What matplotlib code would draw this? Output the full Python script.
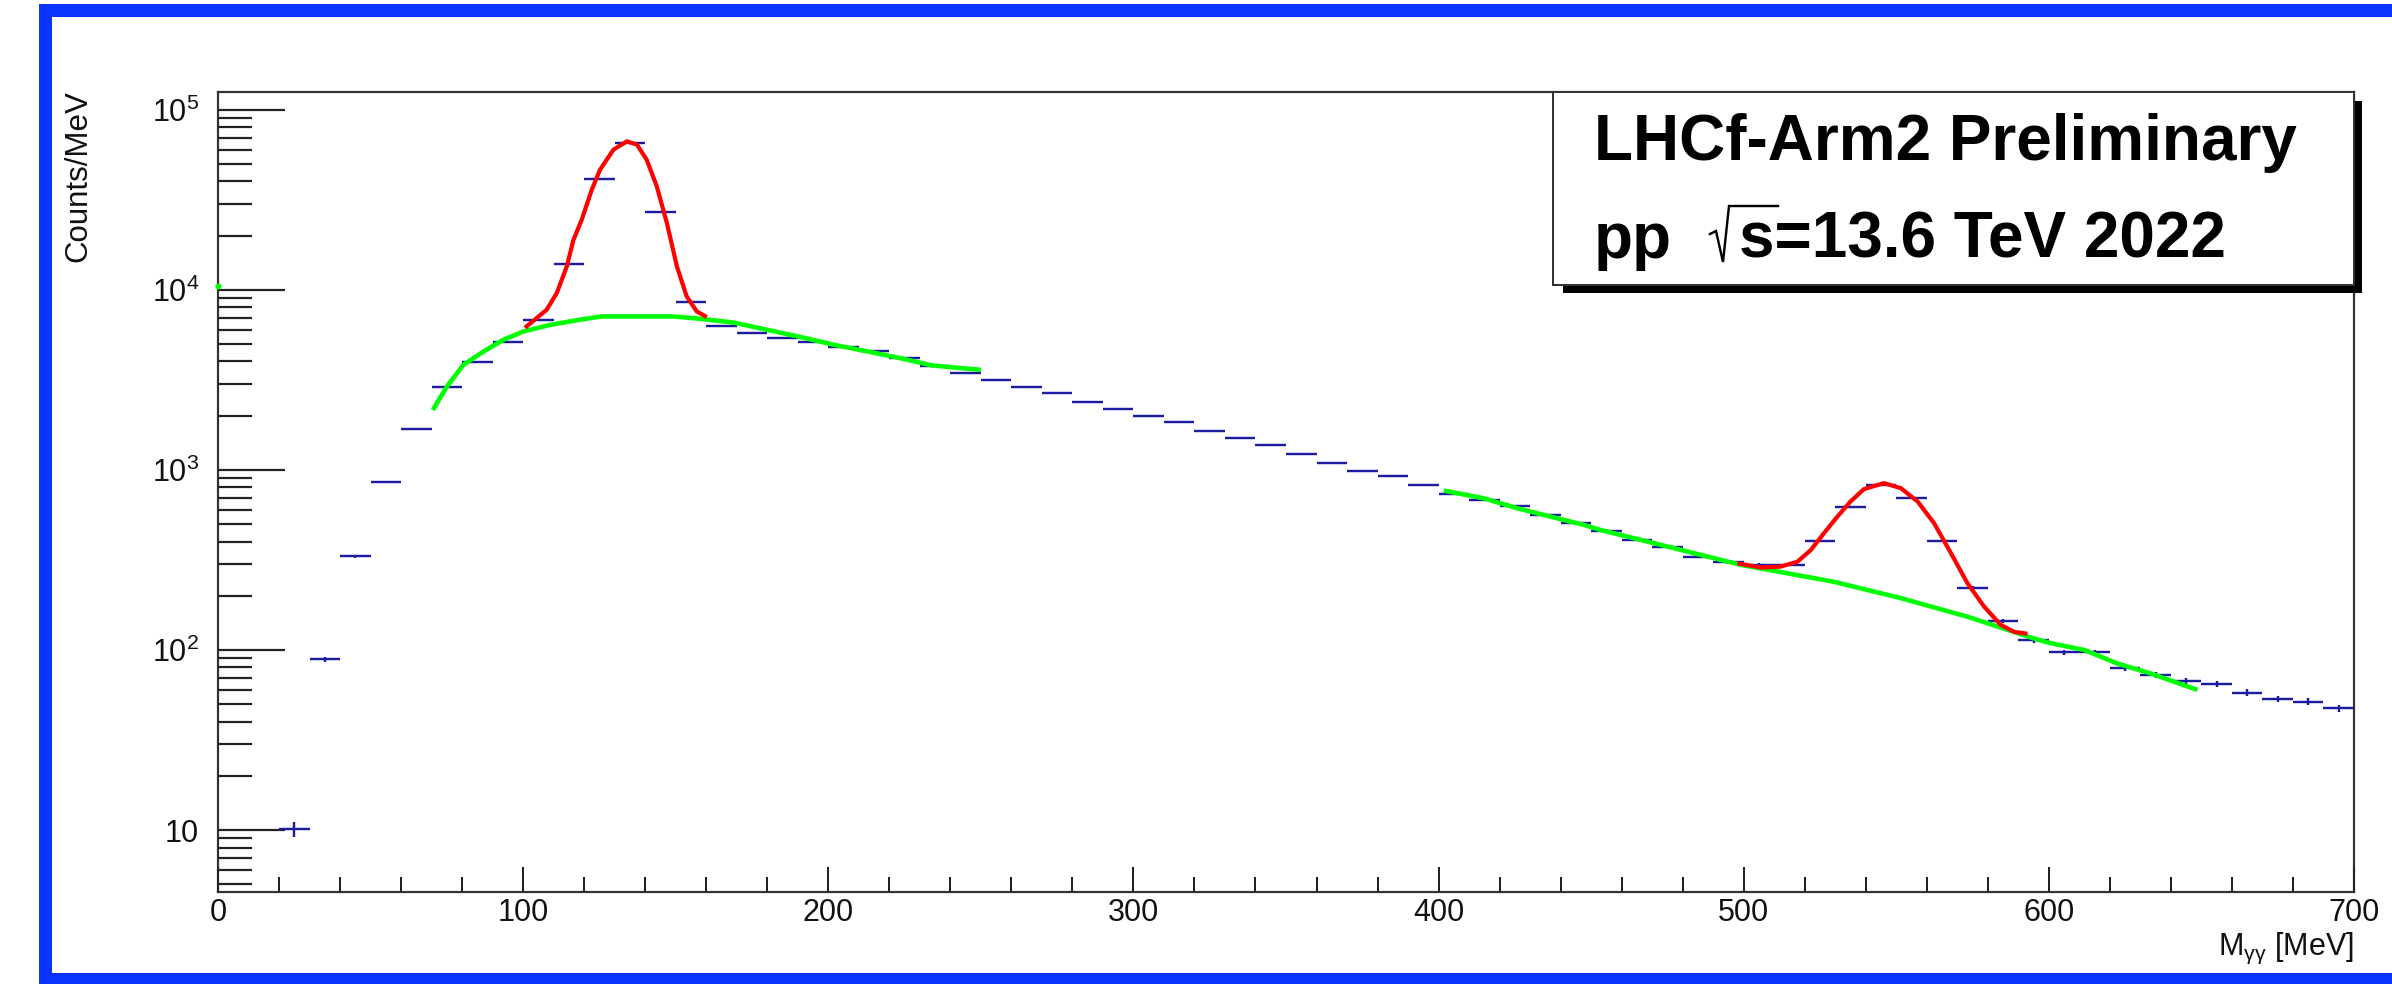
import numpy as np
import matplotlib
matplotlib.use("Agg")
import matplotlib.pyplot as plt
from matplotlib.patches import Rectangle
from matplotlib.lines import Line2D
from matplotlib.ticker import FixedLocator, LogLocator, NullFormatter, MultipleLocator

# ---------------- data ----------------
bin_low = np.arange(20, 700, 10)          # 10 MeV bins, 20..700
bin_width = 10
counts = [10.1, 88.7, 331, 857, 1683, 2900, 3967, 5140, 6810, 13950,
          41400, 65600, 27000, 8600, 6280, 5750, 5420, 5150, 4840, 4550,
          4180, 3780, 3440, 3160, 2900, 2670, 2380, 2180, 2000, 1835,
          1635, 1510, 1382, 1232, 1098, 984, 923, 826, 736, 681,
          626, 560, 510, 460, 410, 374, 330, 307, 298, 297,
          404, 620, 826, 697, 404, 222, 145, 113, 97, 97,
          79, 72.6, 67, 64.7, 58, 53.5, 51.7, 47.4]
errors = [1.0, 3.0, 5.8, 9.3, 13, 17, 20, 23, 26, 37,
          64, 81, 52, 29, 25, 24, 23, 23, 22, 21,
          20, 19, 19, 18, 17, 16, 15, 15, 14, 14,
          13, 12, 12, 11, 10, 10, 10, 9, 9, 8,
          8, 7.5, 7, 7, 6.4, 6.1, 5.7, 5.5, 5.5, 5.4,
          6.4, 7.9, 9.1, 8.3, 6.4, 4.7, 3.8, 3.4, 3.1, 3.1,
          2.8, 2.7, 2.6, 2.5, 2.4, 2.3, 2.3, 2.2]

# background fit (green), two drawn ranges
bg1_x = [70.4, 75, 80.4, 87, 93.5, 100, 109, 120, 126, 149, 158, 169, 180, 191, 202, 213, 223.6, 234, 250]
bg1_y = [2150, 2900, 3830, 4540, 5270, 5860, 6390, 6880, 7110, 7110, 6900, 6570, 5990, 5460, 4940, 4540, 4170, 3800, 3590]
bg2_x = [401.7, 414.8, 425.8, 436.7, 447.6, 453, 468.4, 499, 529.6, 551.5, 573.3, 595, 600.6, 611.6, 622.5, 633.4, 648.7]
bg2_y = [767, 695, 612, 550, 495, 464, 400, 297, 239, 194, 153, 116, 109, 100, 84, 74, 60]

# signal + background fits (red)
pi0_x = [100.6, 107.7, 111, 114.3, 116.5, 119.2, 122.5, 125.2, 129.6, 134, 137.3, 140.5, 143.8, 147.1, 150.4, 153.6, 156.9, 160.2]
pi0_y = [6150, 7740, 9570, 13460, 18950, 24480, 35940, 46400, 59950, 66700, 63900, 52700, 37500, 23500, 13460, 9180, 7580, 7050]
eta_x = [497.9, 505.6, 512, 517.6, 522, 526.3, 530.7, 535, 539.4, 546, 551.5, 557, 562.4, 567.9, 573.3, 578.8, 584.2, 588.6, 593]
eta_y = [303, 287, 290, 309, 359, 445, 550, 667, 782, 844, 791, 667, 505, 345, 235, 174, 138, 126, 123]

stray_x = [0]
stray_y = [1.05e4]

yticks = [10, 1e2, 1e3, 1e4, 1e5]
yticklabels = ["10", "$10^{2}$", "$10^{3}$", "$10^{4}$", "$10^{5}$"]
xticks = [0, 100, 200, 300, 400, 500, 600, 700]

# ---------------- style ----------------
plt.rcParams['font.family'] = ['Liberation Sans', 'DejaVu Sans']
plt.rcParams['mathtext.fontset'] = 'custom'
plt.rcParams['mathtext.rm'] = 'Liberation Sans'
plt.rcParams['mathtext.it'] = 'Liberation Sans:italic'
plt.rcParams['mathtext.bf'] = 'Liberation Sans:bold'

W, H, DPI = 2392, 984, 100
PT = 72.0 / DPI  # points per pixel

def fx(x):
    return x / W

def fy(y):
    return 1 - y / H

fig = plt.figure(figsize=(W / DPI, H / DPI), dpi=DPI)
fig.patch.set_facecolor('white')

# blue outer frame
blue = '#0a33ff'
fig.add_artist(Rectangle((fx(39), fy(984)), fx(13), 980 / H, transform=fig.transFigure, color=blue, lw=0))
fig.add_artist(Rectangle((fx(39), fy(17)), 1, 13 / H, transform=fig.transFigure, color=blue, lw=0))
fig.add_artist(Rectangle((fx(39), fy(984)), 1, 11 / H, transform=fig.transFigure, color=blue, lw=0))

ax_l, ax_r, ax_t, ax_b = 218, 2354, 92, 892
ax = fig.add_axes([fx(ax_l), fy(ax_b), (ax_r - ax_l) / W, (ax_b - ax_t) / H])
ax.set_xlim(0, 700)
ax.set_yscale('log')
ax.set_ylim(4.53, 1.253e5)

centers = bin_low + bin_width / 2
ax.errorbar(centers, counts, xerr=bin_width / 2, yerr=errors, fmt='none',
            ecolor='#1c1ca0', elinewidth=2.4 * PT, capsize=0, zorder=2)

green = '#00ff00'
red = '#ff0000'
ax.plot(bg1_x, bg1_y, color=green, lw=4.6 * PT, zorder=3, solid_capstyle='butt', solid_joinstyle='round')
ax.plot(bg2_x, bg2_y, color=green, lw=4.6 * PT, zorder=3, solid_capstyle='butt', solid_joinstyle='round')
ax.plot(pi0_x, pi0_y, color=red, lw=4.2 * PT, zorder=4, solid_capstyle='butt', solid_joinstyle='round')
ax.plot(eta_x, eta_y, color=red, lw=4.2 * PT, zorder=4, solid_capstyle='butt', solid_joinstyle='round')
ax.plot(stray_x, stray_y, 'o', color=green, ms=6 * PT, mew=0, clip_on=False, zorder=5)

# axes styling
for side in ['left', 'bottom', 'right', 'top']:
    ax.spines[side].set_color('#333333')
    ax.spines[side].set_linewidth(2.2 * PT)
    ax.spines[side].set_zorder(1)

ax.yaxis.set_major_locator(FixedLocator(yticks))
ax.set_yticklabels(yticklabels)
ax.yaxis.set_minor_locator(LogLocator(base=10, subs=np.arange(2, 10)))
ax.yaxis.set_minor_formatter(NullFormatter())
ax.xaxis.set_major_locator(FixedLocator(xticks))
ax.set_xticklabels([str(v) for v in xticks])
ax.xaxis.set_minor_locator(MultipleLocator(20))

ax.tick_params(axis='y', which='major', direction='in', length=67 * PT, width=2.2 * PT,
               color='#222222', labelsize=22, pad=19 * PT, right=False)
ax.tick_params(axis='y', which='minor', direction='in', length=34 * PT, width=2.2 * PT,
               color='#222222', right=False)
ax.tick_params(axis='x', which='major', direction='in', length=25 * PT, width=2.0 * PT,
               color='#222222', labelsize=22, pad=6 * PT, top=False)
ax.tick_params(axis='x', which='minor', direction='in', length=15 * PT, width=2.0 * PT,
               color='#222222', top=False)
for lab in ax.get_xticklabels() + ax.get_yticklabels():
    lab.set_color('#111111')

# axis titles
fig.text(fx(78), fy(90), 'Counts/MeV', rotation=90, ha='center', va='top', fontsize=22.5, color='#111111')
fig.text(fx(2354), fy(955), r'M$_{\mathrm{γγ}}$ [MeV]', ha='right', va='baseline', fontsize=22, color='#111111')

# text box with shadow
fig.add_artist(Rectangle((fx(1563), fy(293)), (2362 - 1563) / W, (293 - 101) / H,
                         transform=fig.transFigure, facecolor='black', edgecolor='none', zorder=10))
fig.add_artist(Rectangle((fx(1553), fy(285)), (2354 - 1553) / W, (285 - 92) / H,
                         transform=fig.transFigure, facecolor='white', edgecolor='#333333',
                         lw=2 * PT, zorder=11))
fig.text(fx(1594), fy(160), 'LHCf-Arm2 Preliminary', ha='left', va='baseline',
         fontsize=46, fontweight='bold', zorder=12)
fig.text(fx(1594), fy(258), 'pp', ha='left', va='baseline',
         fontsize=46, fontweight='bold', zorder=12)
fig.text(fx(1739), fy(258), 's=13.6 TeV 2022', ha='left', va='baseline',
         fontsize=46, fontweight='bold', zorder=12)
# ROOT-style thin radical sign over "s"
rad_x = [1710, 1716, 1723, 1729, 1778]
rad_y = [234, 231, 262, 206, 206]
fig.add_artist(Line2D([fx(v) for v in rad_x], [fy(v) for v in rad_y], transform=fig.transFigure,
                      color='black', lw=2.4 * PT, solid_joinstyle='miter', zorder=12))

fig.savefig('out.png', dpi=DPI)
